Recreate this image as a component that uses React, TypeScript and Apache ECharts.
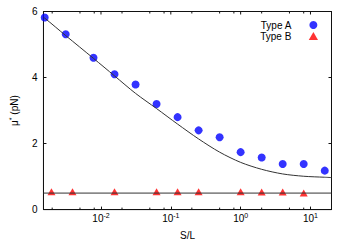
import React, { useEffect, useRef } from "react";
import * as echarts from "echarts";

const xMin = 0.0015;
const xMax = 20;

const typeAX = [1 / 640, 1 / 320, 1 / 128, 1 / 64, 1 / 32, 1 / 16, 1 / 8, 1 / 4, 1 / 2, 1, 2, 4, 8, 16];
const typeAY = [5.82, 5.31, 4.6, 4.1, 3.79, 3.2, 2.8, 2.4, 2.19, 1.74, 1.58, 1.38, 1.38, 1.18];

const typeBX = [1 / 512, 1 / 256, 1 / 64, 1 / 16, 1 / 8, 1 / 4, 1, 2, 4, 8];
const typeBY = [0.54, 0.54, 0.54, 0.54, 0.54, 0.54, 0.54, 0.53, 0.53, 0.5];

const curveX = [0.0015, 1 / 640, 1 / 320, 1 / 128, 1 / 64, 1 / 32, 1 / 16, 1 / 8, 1 / 4, 1 / 2, 1, 2, 4, 8, 16, 20];
const curveY = [5.81, 5.8, 5.27, 4.58, 4.05, 3.52, 3.06, 2.59, 2.14, 1.74, 1.43, 1.22, 1.08, 1.01, 0.98, 0.97];

const flatX = [0.0015, 20];
const flatY = [0.5, 0.5];

const minorTicks = [0.002, 0.005, 0.008, 0.02, 0.05, 0.08, 0.2, 0.5, 0.8, 2, 5, 8];
const majorTicks = [0.01, 0.1, 1, 10];

const FONT = "Liberation Sans";
const AXIS_COLOR = "#111";

export default function App() {
  const ref = useRef<HTMLDivElement>(null);
  useEffect(() => {
    if (!ref.current) return;
    const chart = echarts.init(ref.current, null, { renderer: "svg" });
    const axisLine = { show: true, onZero: false, lineStyle: { color: AXIS_COLOR, width: 1 } };
    const tick = { show: true, inside: true, length: 3, lineStyle: { color: AXIS_COLOR, width: 1 } };
    const tickData = [
      ...minorTicks.map((v) => [v, 2]),
      ...majorTicks.map((v) => [v, 3]),
    ];
    const option: any = {
      animation: false,
      textStyle: { fontFamily: FONT, color: "#000" },
      grid: {
        left: 30.5,
        right: 18.5,
        top: 11.5,
        bottom: 31.5,
        show: true,
        borderColor: AXIS_COLOR,
        borderWidth: 1,
        backgroundColor: "transparent",
      },
      legend: {
        orient: "vertical",
        right: 27,
        top: 15,
        align: "right",
        itemWidth: 34,
        itemHeight: 8,
        itemGap: 1,
        data: [
          { name: "Type A", icon: "circle" },
          { name: "Type B", icon: "path://M5,0L10,8.66L0,8.66Z" },
        ],
        textStyle: { fontFamily: FONT, fontSize: 10, color: "#000", lineHeight: 10 },
      },
      xAxis: [
        {
          type: "log",
          logBase: 10,
          min: xMin,
          max: xMax,
          position: "bottom",
          name: "S/L",
          nameLocation: "middle",
          nameGap: 18,
          nameTextStyle: { fontFamily: FONT, fontSize: 10, color: "#000" },
          axisLine,
          axisTick: tick,
          splitLine: { show: false },
          axisLabel: {
            showMinLabel: false,
            showMaxLabel: false,
            margin: 4,
            color: "#000",
            fontFamily: FONT,
            fontSize: 10,
            formatter: (v: number) => {
              const e = Math.round(Math.log10(v));
              return "10{sup|" + e + "}";
            },
            rich: {
              sup: { fontSize: 7, lineHeight: 7, padding: [0, 0, 6, 0], fontFamily: FONT, color: "#000" },
            },
          },
        },
      ],
      yAxis: [
        {
          type: "value",
          min: 0,
          max: 6,
          interval: 2,
          position: "left",
          name: "μ{sup|*} (pN)",
          nameLocation: "middle",
          nameGap: 14,
          nameRotate: 90,
          nameTextStyle: {
            fontFamily: FONT,
            fontSize: 10,
            color: "#000",
            rich: { sup: { fontSize: 7, lineHeight: 7, padding: [0, 0, 6, 0], fontFamily: FONT, color: "#000" } },
          },
          axisLine,
          axisTick: tick,
          splitLine: { show: false },
          axisLabel: { margin: 6, color: "#000", fontFamily: FONT, fontSize: 10 },
        },
        {
          type: "value",
          min: 0,
          max: 6,
          interval: 2,
          position: "right",
          axisLine,
          axisTick: tick,
          splitLine: { show: false },
          axisLabel: { show: false },
        },
      ],
      series: [
        {
          type: "custom",
          silent: true,
          clip: false,
          xAxisIndex: 0,
          yAxisIndex: 0,
          data: tickData,
          encode: { x: 0 },
          renderItem: (params: any, api: any) => {
            const x = api.value(0);
            const len = api.value(1);
            const pb = api.coord([x, 0]);
            const pt = api.coord([x, 6]);
            const st = { stroke: AXIS_COLOR, lineWidth: 1 };
            return {
              type: "group",
              children: [
                { type: "line", shape: { x1: pt[0], y1: pt[1], x2: pt[0], y2: pt[1] + len }, style: st },
                ...(len < 3
                  ? [{ type: "line", shape: { x1: pb[0], y1: pb[1], x2: pb[0], y2: pb[1] - len }, style: st }]
                  : []),
              ],
            };
          },
        },
        {
          type: "line",
          name: "fit",
          data: curveX.map((x, i) => [x, curveY[i]]),
          showSymbol: false,
          smooth: 0.3,
          lineStyle: { color: "#333", width: 1 },
          silent: true,
        },
        {
          type: "line",
          name: "flat",
          data: flatX.map((x, i) => [x, flatY[i]]),
          showSymbol: false,
          lineStyle: { color: "#333", width: 1 },
          silent: true,
        },
        {
          type: "scatter",
          name: "Type A",
          data: typeAX.map((x, i) => [x, typeAY[i]]),
          symbol: "circle",
          symbolSize: 8,
          itemStyle: { color: "#0000ff" },
        },
        {
          type: "scatter",
          name: "Type B",
          data: typeBX.map((x, i) => [x, typeBY[i]]),
          symbol: "triangle",
          symbolSize: [8, 7],
          itemStyle: { color: "#ff0000" },
        },
      ],
    };
    chart.setOption(option);
    return () => chart.dispose();
  }, []);
  return <div ref={ref} style={{ width: 350, height: 245, position: "absolute", left: 0, top: 0 }} />;
}
